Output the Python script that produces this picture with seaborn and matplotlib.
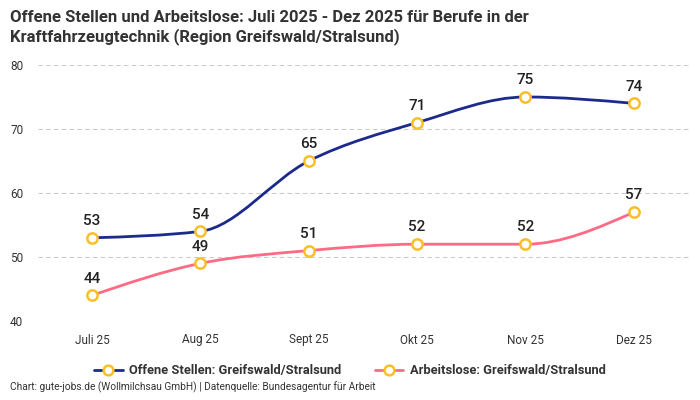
import numpy as np
import matplotlib
matplotlib.use('Agg')
import matplotlib.pyplot as plt
from matplotlib.path import Path
from matplotlib.patches import PathPatch
from matplotlib.lines import Line2D
import seaborn as sns

monate = ['Juli 25', 'Aug 25', 'Sept 25', 'Okt 25', 'Nov 25', 'Dez 25']
offene_stellen = [53, 54, 65, 71, 75, 74]
arbeitslose = [44, 49, 51, 52, 52, 57]

blau = '#1c2a8c'
rosa = '#ff6b85'
gelb = '#f8bf26'

sns.set_theme(style='white')
plt.rcParams['font.family'] = ['Roboto', 'DejaVu Sans']


def monotone_pfad(xs, ys):
    # monotone cubic curve (like d3 curveMonotoneX) as bezier path
    xs = np.asarray(xs, float)
    ys = np.asarray(ys, float)
    n = len(xs)
    h = np.diff(xs)
    d = np.diff(ys) / h
    m = np.zeros(n)
    for i in range(1, n - 1):
        if d[i - 1] * d[i] <= 0:
            m[i] = 0
        else:
            p = (d[i - 1] * h[i] + d[i] * h[i - 1]) / (h[i - 1] + h[i])
            m[i] = np.sign(d[i - 1]) * min(abs(d[i - 1]), abs(d[i]), 0.5 * abs(p)) * 2
    m[0] = (3 * d[0] - m[1]) / 2 if n > 2 else d[0]
    m[-1] = (3 * d[-1] - m[-2]) / 2 if n > 2 else d[-1]
    verts = [(xs[0], ys[0])]
    codes = [Path.MOVETO]
    for i in range(n - 1):
        dx = h[i] / 3
        verts += [(xs[i] + dx, ys[i] + m[i] * dx),
                  (xs[i + 1] - dx, ys[i + 1] - m[i + 1] * dx),
                  (xs[i + 1], ys[i + 1])]
        codes += [Path.CURVE4] * 3
    return Path(verts, codes)


fig = plt.figure(figsize=(7, 4), dpi=100)
ax = fig.add_axes([0.054, 0.1975, 0.932, 0.64])

x = np.arange(len(monate))
for werte, farbe in [(offene_stellen, blau), (arbeitslose, rosa)]:
    ax.add_patch(PathPatch(monotone_pfad(x, werte), facecolor='none',
                           edgecolor=farbe, lw=2, zorder=3))
    sns.scatterplot(x=x, y=werte, ax=ax, s=55, color='white', edgecolor=gelb,
                    linewidth=1.8, zorder=4, legend=False)
    for xi, v in zip(x, werte):
        ax.annotate(str(v), (xi, v), xytext=(0, 7), textcoords='offset points',
                    ha='center', va='bottom', fontsize=11, fontweight='medium',
                    color='#222222', zorder=5)

ax.set_xlim(-0.5, 5.52)
ax.set_ylim(40, 80)
ax.set_yticks([40, 50, 60, 70, 80])
ax.set_xticks(x)
ax.set_xticklabels(monate)
ax.tick_params(axis='both', length=0, labelsize=8.5, colors='#333333')
ax.tick_params(axis='x', pad=9)
ax.grid(axis='y', color='#cccccc', linestyle=(0, (4, 3)), linewidth=0.8)
ax.set_axisbelow(True)
for s in ax.spines.values():
    s.set_visible(False)
for lbl in ax.get_yticklabels():
    lbl.set_horizontalalignment('left')
ax.yaxis.set_tick_params(pad=20)

fig.text(0.014, 0.975, 'Offene Stellen und Arbeitslose: Juli 2025 - Dez 2025 für Berufe in der\n'
         'Kraftfahrzeugtechnik (Region Greifswald/Stralsund)',
         ha='left', va='top', fontsize=12, fontweight='bold', color='#333333',
         linespacing=1.2)

handles = [Line2D([], [], color=blau, lw=2, marker='o', markersize=7,
                  markerfacecolor='white', markeredgecolor=gelb, markeredgewidth=1.8),
           Line2D([], [], color=rosa, lw=2, marker='o', markersize=7,
                  markerfacecolor='white', markeredgecolor=gelb, markeredgewidth=1.8)]
leg = fig.legend(handles, ['Offene Stellen: Greifswald/Stralsund', 'Arbeitslose: Greifswald/Stralsund'],
                 loc='center', bbox_to_anchor=(0.5, 0.073), ncol=2, frameon=False,
                 handlelength=2.2, handletextpad=0.5, columnspacing=2.6,
                 prop={'size': 9.3, 'weight': 'bold'})
for t in leg.get_texts():
    t.set_color('#333333')

fig.text(0.014, 0.018, 'Chart: gute-jobs.de (Wollmilchsau GmbH) | Datenquelle: Bundesagentur für Arbeit',
         ha='left', va='bottom', fontsize=7.3, color='#333333')

fig.savefig('out.png', dpi=100)
